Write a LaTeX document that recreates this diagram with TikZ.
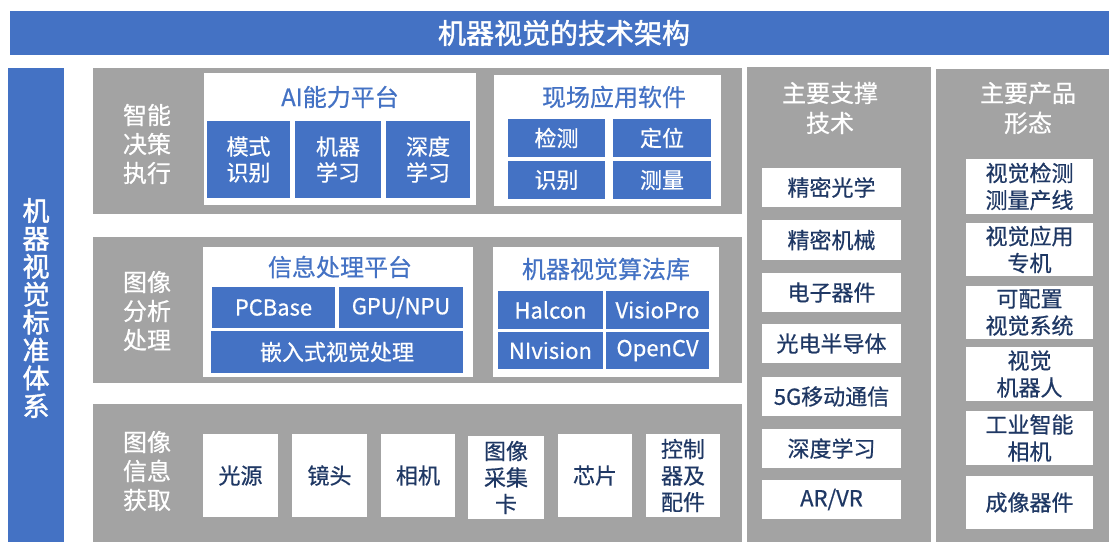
\documentclass[tikz,border=0pt]{standalone}
\usepackage{fontspec}
\setmainfont{Noto Sans CJK SC}[FakeBold=0.6]
\newfontfamily\heavyfont{Noto Sans CJK SC}[FakeBold=1.6]
\definecolor{mvblue}{HTML}{4472C4}
\definecolor{mvgrey}{HTML}{A3A3A3}
\definecolor{mvdark}{HTML}{1F3864}
\newcommand\fs[2]{\fontsize{#1}{#2}\selectfont}
\newcommand\bx[7]{\node[#2, anchor=north west, minimum width={#5pt-#3pt}, minimum height={#6pt-#4pt}] (#1) at (#3,#4) {#7};}
\tikzset{
  base/.style={inner sep=0pt, outer sep=0pt, align=center},
  bluebar/.style={base, fill=mvblue, text=white},
  greypanel/.style={base, fill=mvgrey},
  whitebox/.style={base, fill=white},
  bluebox/.style={base, fill=mvblue, text=white, font=\fs{22}{26}},
  darkbox/.style={base, fill=white, text=mvdark, font=\fs{22}{26.5}},
  prodbox/.style={base, fill=white, text=mvdark, font=\fs{22}{27}},
  rowlabel/.style={base, text=white, font=\fs{24}{29}},
  coltitle/.style={base, text=white, font=\fs{24}{30}},
  boxtitle/.style={base, text=mvblue, font=\fs{24}{26}},
}
\begin{document}
\begin{tikzpicture}[x=1pt,y=-1pt]
\useasboundingbox (0,0) rectangle (1109,542);
% title
\bx{title}{bluebar}{10}{11}{1109}{55}{}
\node[base, text=white, font=\fs{28}{30}\heavyfont] (titletext) at (564,33) {机器视觉的技术架构};
% left bar
\bx{left}{bluebar}{8}{68}{64}{542}{}
\node[base, text=white, font=\fs{27}{27.9}\heavyfont] (lefttext) at (36,308) {机\\器\\视\\觉\\标\\准\\体\\系};
% row panels
\bx{row1}{greypanel}{93}{68}{742}{214}{}
\bx{row2}{greypanel}{93}{237}{742}{383}{}
\bx{row3}{greypanel}{93}{404}{742}{542}{}
\node[rowlabel] (lab1) at (147,144) {智能\\决策\\执行};
\node[rowlabel] (lab2) at (147,311) {图像\\分析\\处理};
\node[rowlabel] (lab3) at (147,471) {图像\\信息\\获取};
% row 1
\bx{ai}{whitebox}{204}{73}{476}{205}{}
\node[boxtitle] (aititle) at (340,97) {AI能力平台};
\bx{ms}{bluebox}{207}{121}{290}{198}{模式\\识别}
\bx{ml}{bluebox}{295}{121}{381}{198}{机器\\学习}
\bx{dl}{bluebox}{386}{121}{470}{198}{深度\\学习}
\bx{app}{whitebox}{494}{75}{721}{206}{}
\node[boxtitle] (apptitle) at (614,97) {现场应用软件};
\bx{jc}{bluebox}{508}{119}{605}{157}{检测}
\bx{dw}{bluebox}{613}{119}{711}{157}{定位}
\bx{sb}{bluebox}{508}{161}{605}{199}{识别}
\bx{cl}{bluebox}{613}{161}{711}{199}{测量}
% row 2
\bx{info}{whitebox}{203}{247}{473}{377}{}
\node[boxtitle] (infotitle) at (340,267) {信息处理平台};
\bx{pcb}{bluebox}{212}{287}{335}{328}{PCBase}
\bx{gpu}{bluebox}{339}{287}{463}{328}{GPU/NPU}
\bx{emb}{bluebox}{211}{331}{463}{373}{嵌入式视觉处理}
\bx{alg}{whitebox}{493}{247}{719}{377}{}
\node[boxtitle] (algtitle) at (606,269) {机器视觉算法库};
\bx{hal}{bluebox}{498}{291}{603}{329}{Halcon}
\bx{vp}{bluebox}{606}{291}{709}{329}{VisioPro}
\bx{ni}{bluebox}{498}{332}{603}{369}{NIvision}
\bx{cv}{bluebox}{606}{332}{709}{369}{OpenCV}
% row 3
\bx{gy}{darkbox}{203}{434}{278}{517}{光源}
\bx{jt}{darkbox}{292}{434}{367}{517}{镜头}
\bx{xj}{darkbox}{381}{434}{455}{517}{相机}
\bx{cjk}{darkbox}{468}{436}{544}{519}{图像\\采集\\卡}
\bx{xp}{darkbox}{558}{434}{632}{517}{芯片}
\bx{kz}{darkbox}{646}{434}{720}{517}{控制\\器及\\配件}
% column 3
\bx{col3}{greypanel}{747}{67}{931}{542}{}
\node[coltitle] (col3t) at (830,108) {主要支撑\\技术};
\bx{t1}{darkbox}{762}{168}{901}{207}{精密光学}
\bx{t2}{darkbox}{762}{220}{901}{260}{精密机械}
\bx{t3}{darkbox}{762}{273}{901}{312}{电子器件}
\bx{t4}{darkbox}{762}{324}{901}{363}{光电半导体}
\bx{t5}{darkbox}{762}{377}{901}{416}{5G移动通信}
\bx{t6}{darkbox}{762}{429}{901}{468}{深度学习}
\bx{t7}{darkbox}{762}{480}{901}{519}{AR/VR}
% column 4
\bx{col4}{greypanel}{936}{69}{1109}{542}{}
\node[coltitle] (col4t) at (1028,108) {主要产品\\形态};
\bx{p1}{prodbox}{966}{159}{1093}{214}{视觉检测\\测量产线}
\bx{p2}{prodbox}{966}{223}{1093}{276}{视觉应用\\专机}
\bx{p3}{prodbox}{966}{286}{1093}{339}{可配置\\视觉系统}
\bx{p4}{prodbox}{966}{347}{1093}{401}{视觉\\机器人}
\bx{p5}{prodbox}{966}{411}{1093}{465}{工业智能\\相机}
\bx{p6}{prodbox}{966}{476}{1093}{529}{成像器件}
\end{tikzpicture}
\end{document}
